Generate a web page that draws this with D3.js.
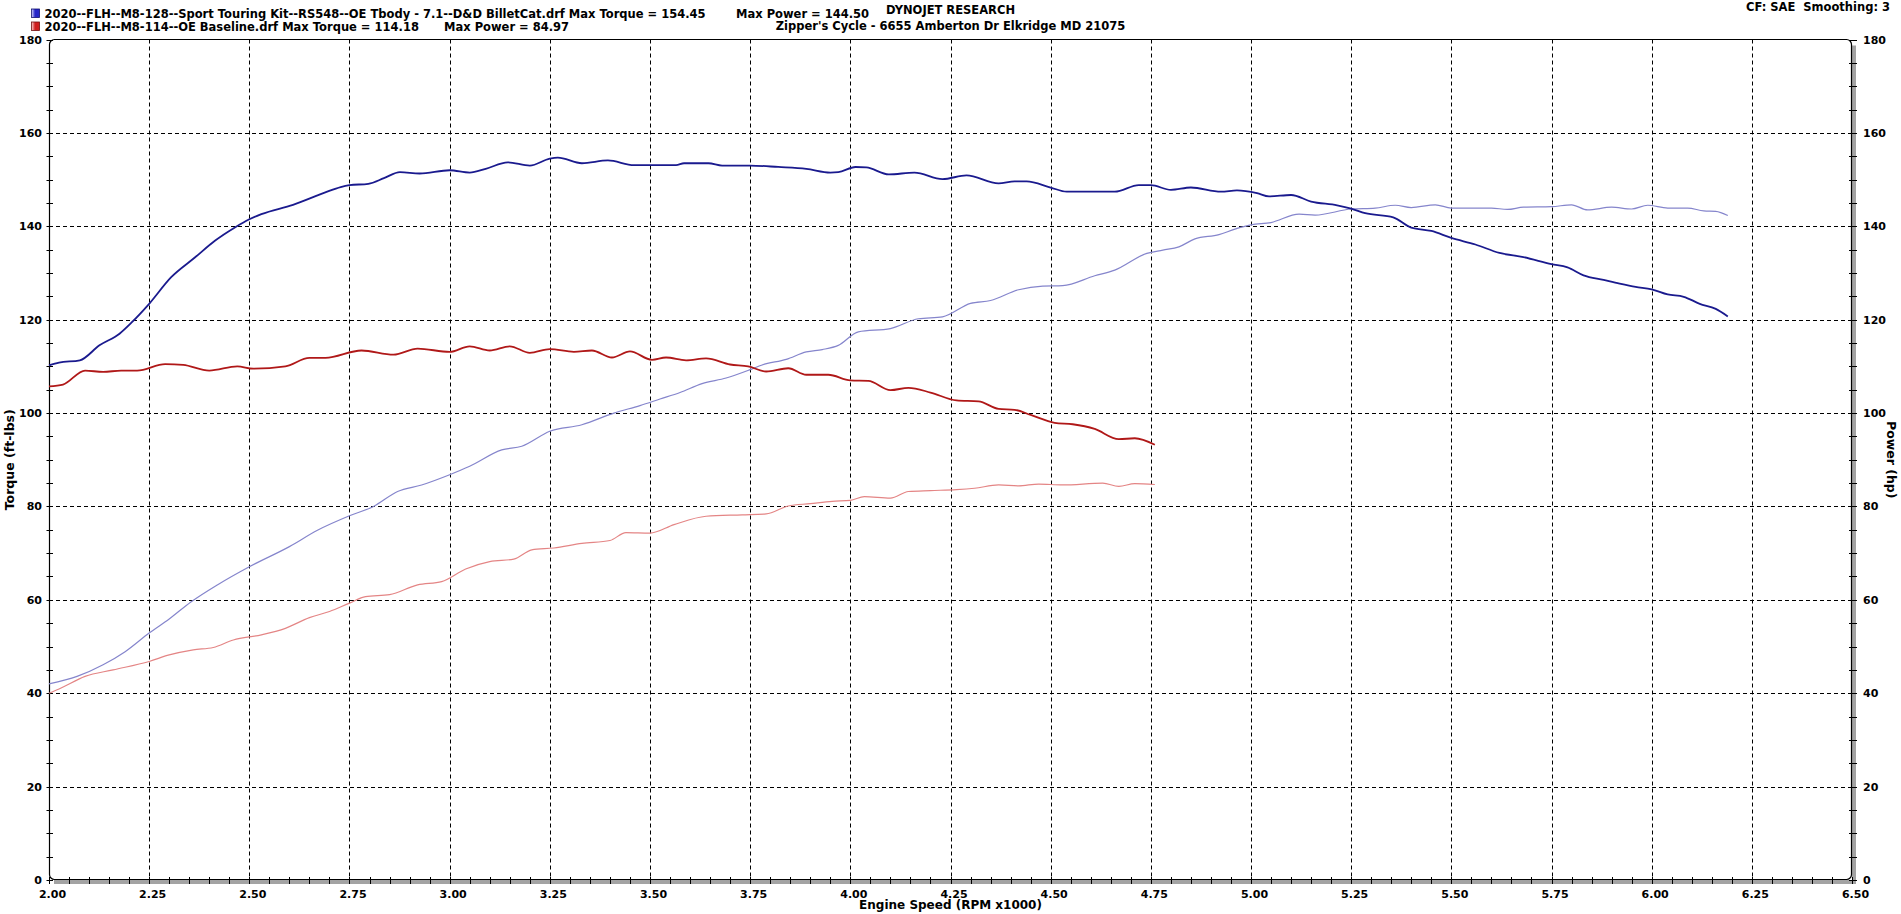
<!DOCTYPE html>
<html><head><meta charset="utf-8">
<script src="https://cdn.jsdelivr.net/npm/d3@7"></script>
<style>
body{margin:0;background:#fff}
svg{display:block}
text{font-family:"DejaVu Sans",Verdana,sans-serif;font-weight:bold;fill:#000}
</style>
</head><body>
<svg id="chart" width="1901" height="914"></svg>
<script>
// ---- tick labels ----
const xTickLabels = [2.00,2.25,2.50,2.75,3.00,3.25,3.50,3.75,4.00,4.25,4.50,4.75,5.00,5.25,5.50,5.75,6.00,6.25,6.50];
const yTickLabels = [0,20,40,60,80,100,120,140,160,180];

// ---- legend / header texts ----
const runNames = ["2020--FLH--M8-128--Sport Touring Kit--RS548--OE Tbody - 7.1--D&D BilletCat.drf",
                  "2020--FLH--M8-114--OE Baseline.drf"];
const maxTorque = ["154.45","114.18"];
const maxPower = ["144.50","84.97"];

// ---- series: [rpm x1000, value] ----
const torqueKit = [[2.00,110.2],[2.025,110.8],[2.077,111.3],[2.126,114.5],[2.176,117.0],[2.205,119.3],[2.25,123.4],[2.305,129.1],[2.364,133.3],[2.414,136.9],[2.463,139.7],[2.50,141.5],[2.53,142.6],[2.609,144.6],[2.688,147.2],[2.728,148.4],[2.75,148.8],[2.797,149.1],[2.836,150.3],[2.876,151.6],[2.925,151.3],[3.00,152.0],[3.05,151.5],[3.09,152.3],[3.145,153.7],[3.20,153.0],[3.25,154.5],[3.27,154.7],[3.33,153.5],[3.395,154.1],[3.46,153.1],[3.565,153.1],[3.585,153.5],[3.646,153.5],[3.68,153.0],[3.75,153.0],[3.82,152.7],[3.89,152.3],[3.95,151.5],[3.97,151.6],[4.013,152.7],[4.04,152.6],[4.096,151.1],[4.16,151.5],[4.23,150.1],[4.29,150.9],[4.37,149.2],[4.41,149.6],[4.44,149.6],[4.50,148.3],[4.54,147.4],[4.66,147.4],[4.72,148.8],[4.75,148.8],[4.80,147.8],[4.85,148.3],[4.925,147.4],[4.965,147.7],[5.015,147.1],[5.045,146.4],[5.10,146.7],[5.15,145.3],[5.215,144.5],[5.25,143.8],[5.285,142.8],[5.355,141.9],[5.40,139.7],[5.45,139.0],[5.50,137.5],[5.56,136.1],[5.62,134.3],[5.68,133.4],[5.75,131.9],[5.79,131.2],[5.83,129.5],[5.88,128.5],[5.92,127.7],[5.96,127.0],[6.00,126.5],[6.04,125.4],[6.08,124.9],[6.12,123.4],[6.16,122.3],[6.19,120.7]];

const powerKit = [[2.00,42.0],[2.07,43.6],[2.135,46.1],[2.19,48.9],[2.25,52.9],[2.30,55.9],[2.355,59.6],[2.42,63.2],[2.50,67.1],[2.60,71.4],[2.67,74.9],[2.75,78.0],[2.81,80.0],[2.87,83.2],[2.93,84.6],[3.00,86.8],[3.05,88.6],[3.13,92.1],[3.18,92.9],[3.25,96.1],[3.33,97.5],[3.41,100.0],[3.475,101.6],[3.525,103.0],[3.575,104.4],[3.63,106.3],[3.69,107.5],[3.75,109.3],[3.78,110.3],[3.84,111.5],[3.89,113.1],[3.93,113.6],[3.97,114.5],[4.02,117.4],[4.10,118.1],[4.17,120.2],[4.23,120.6],[4.30,123.5],[4.35,124.1],[4.42,126.4],[4.48,127.2],[4.53,127.3],[4.61,129.4],[4.66,130.6],[4.74,134.2],[4.78,134.9],[4.82,135.6],[4.86,137.3],[4.92,138.2],[4.96,139.4],[5.00,140.3],[5.05,140.8],[5.12,142.6],[5.16,142.4],[5.25,143.7],[5.31,143.9],[5.36,144.5],[5.40,144.0],[5.46,144.6],[5.50,143.9],[5.60,143.9],[5.64,143.6],[5.68,144.1],[5.75,144.2],[5.80,144.6],[5.84,143.5],[5.90,144.1],[5.95,143.7],[5.99,144.5],[6.04,143.9],[6.09,143.9],[6.13,143.3],[6.16,143.2],[6.19,142.3]];

const torqueBase = [[2.00,105.7],[2.035,106.1],[2.09,109.1],[2.135,108.8],[2.18,109.1],[2.22,109.1],[2.29,110.5],[2.335,110.3],[2.40,109.1],[2.47,110.0],[2.51,109.5],[2.59,110.0],[2.65,111.8],[2.69,111.8],[2.78,113.4],[2.86,112.5],[2.92,113.8],[3.00,113.1],[3.05,114.3],[3.10,113.4],[3.15,114.3],[3.20,112.9],[3.25,113.7],[3.31,113.1],[3.355,113.4],[3.405,111.9],[3.45,113.2],[3.505,111.4],[3.54,111.9],[3.59,111.3],[3.64,111.7],[3.70,110.4],[3.745,110.0],[3.79,108.9],[3.845,109.6],[3.89,108.2],[3.945,108.2],[4.00,107.0],[4.045,106.9],[4.10,104.9],[4.145,105.4],[4.20,104.4],[4.265,102.7],[4.32,102.5],[4.37,100.9],[4.41,100.7],[4.45,99.6],[4.51,97.9],[4.555,97.6],[4.61,96.6],[4.67,94.4],[4.71,94.6],[4.76,93.2]];

const powerBase = [[2.00,40.0],[2.025,40.9],[2.09,43.6],[2.16,45.0],[2.25,46.8],[2.30,48.2],[2.36,49.3],[2.41,49.8],[2.46,51.4],[2.53,52.5],[2.59,53.9],[2.65,56.2],[2.70,57.5],[2.75,59.3],[2.79,60.7],[2.85,61.1],[2.92,63.2],[2.98,63.9],[3.04,66.6],[3.10,68.2],[3.16,68.7],[3.205,70.7],[3.26,71.1],[3.33,72.1],[3.40,72.7],[3.44,74.4],[3.50,74.3],[3.56,76.1],[3.64,77.9],[3.73,78.2],[3.79,78.4],[3.845,80.1],[3.90,80.6],[3.955,81.1],[4.00,81.3],[4.035,82.1],[4.10,81.8],[4.145,83.2],[4.20,83.4],[4.265,83.6],[4.31,83.9],[4.37,84.6],[4.42,84.4],[4.47,84.8],[4.53,84.6],[4.63,85.0],[4.67,84.3],[4.71,84.9],[4.76,84.7]];

// ---- layout ----
const W = 1901, H = 914;
const M = {left:49, right:1852, top:39.5, bottom:880};
const svg = d3.select("#chart");

const x = d3.scaleLinear().domain([2.0, 6.5]).range([M.left, M.right]);
const y = d3.scaleLinear().domain([0, 180]).range([M.bottom, M.top]);

// grid
const grid = svg.append("g").attr("stroke","#000").attr("stroke-width",1).attr("stroke-dasharray","4,3");
grid.selectAll(".vx").data(xTickLabels.slice(1,-1)).join("line")
  .attr("x1",d=>Math.round(x(d))+0.5).attr("x2",d=>Math.round(x(d))+0.5)
  .attr("y1",M.top).attr("y2",M.bottom);
grid.selectAll(".hy").data(yTickLabels.slice(1,-1)).join("line")
  .attr("y1",d=>Math.round(y(d))+0.5).attr("y2",d=>Math.round(y(d))+0.5)
  .attr("x1",M.left).attr("x2",M.right);

// shadow (right + bottom)
svg.append("path")
  .attr("d",`M${M.left+5},${M.bottom+2} L${M.right+2},${M.bottom+2} L${M.right+2},${M.top+6}`)
  .attr("fill","none").attr("stroke","#a3a3a3").attr("stroke-width",4);

// frame
svg.append("rect").attr("x",M.left+0.5).attr("y",M.top).attr("width",M.right-M.left-1).attr("height",M.bottom-M.top-0.5)
  .attr("rx",5).attr("fill","none").attr("stroke","#000").attr("stroke-width",1.2);

// minor ticks
const minorY = d3.range(0,181,5);
const minorX = d3.range(0,91,1).map(i=>2+i*0.05);
const tk = svg.append("g").attr("stroke","#000").attr("stroke-width",1);
tk.selectAll(".ly").data(minorY).join("line")
  .attr("x1",M.left-2.5).attr("x2",M.left+4).attr("y1",d=>Math.round(y(d))+0.5).attr("y2",d=>Math.round(y(d))+0.5);
tk.selectAll(".ry").data(minorY).join("line")
  .attr("x1",M.right-3).attr("x2",M.right+5).attr("y1",d=>Math.round(y(d))+0.5).attr("y2",d=>Math.round(y(d))+0.5);
tk.selectAll(".bx").data(minorX).join("line")
  .attr("y1",M.bottom-3).attr("y2",M.bottom+4).attr("x1",d=>Math.round(x(d))+0.5).attr("x2",d=>Math.round(x(d))+0.5);

// axes (labels)
const fmtX = d3.format(".2f");
const axL = svg.append("g").attr("transform",`translate(${M.left},0)`)
  .call(d3.axisLeft(y).tickValues(yTickLabels).tickSize(0).tickPadding(7));
const axR = svg.append("g").attr("transform",`translate(${M.right},0)`)
  .call(d3.axisRight(y).tickValues(yTickLabels).tickSize(0).tickPadding(11));
const axB = svg.append("g").attr("transform",`translate(0,${M.bottom})`)
  .call(d3.axisBottom(x).tickValues(xTickLabels).tickFormat(fmtX).tickSize(0).tickPadding(10));
[axL,axR,axB].forEach(a=>{
  a.select(".domain").remove();
  a.attr("font-family",null).attr("font-size",null);
  a.selectAll("text").style("font-size","11px").style("font-weight","bold").attr("fill","#000");
});
axB.selectAll("text").attr("dx",3);

// lines
const line = d3.line().x(d=>x(d[0])).y(d=>y(d[1])).curve(d3.curveMonotoneX);
const series = [
  {data:powerKit, color:"#8585cc", w:1.2},
  {data:powerBase, color:"#e48585", w:1.2},
  {data:torqueBase, color:"#b01818", w:1.8},
  {data:torqueKit, color:"#1a1a8e", w:1.8}
];
svg.append("g").selectAll("path").data(series).join("path")
  .attr("d",s=>line(s.data)).attr("fill","none")
  .attr("stroke",s=>s.color).attr("stroke-width",s=>s.w).attr("stroke-linejoin","round");

// axis titles
svg.append("text").attr("transform",`translate(14,${(M.top+M.bottom)/2}) rotate(-90)`)
  .attr("text-anchor","middle").style("font-size","12.5px").text("Torque (ft-lbs)");
svg.append("text").attr("transform",`translate(1887,${(M.top+M.bottom)/2}) rotate(90)`)
  .attr("text-anchor","middle").style("font-size","12.5px").text("Power (hp)");
svg.append("text").attr("x",(M.left+M.right)/2).attr("y",909)
  .attr("text-anchor","middle").style("font-size","12px").text("Engine Speed (RPM x1000)");

// header
const defs = svg.append("defs");
const grads = [["gb","#d8d8ff","#2424c8"],["gr","#ffd8d8","#d02020"]];
grads.forEach(g=>{
  const lg = defs.append("linearGradient").attr("id",g[0]).attr("x1",0).attr("x2",1).attr("y1",0).attr("y2",0);
  lg.append("stop").attr("offset","0%").attr("stop-color",g[1]);
  lg.append("stop").attr("offset","45%").attr("stop-color",g[2]);
  lg.append("stop").attr("offset","100%").attr("stop-color",g[2]);
});
const legY = [17.5, 30.5];
const iconStroke = ["#101070","#701010"];
legY.forEach((ly,i)=>{
  svg.append("rect").attr("x",31.5).attr("y",ly-8.5).attr("width",8).attr("height",8.5)
    .attr("fill",`url(#${grads[i][0]})`).attr("stroke",iconStroke[i]).attr("stroke-width",0.8);
  svg.append("text").attr("x",44.5).attr("y",ly).style("font-size","11.5px")
    .text(`${runNames[i]} Max Torque = ${maxTorque[i]}`);
});
svg.append("text").attr("x",736).attr("y",legY[0]).style("font-size","11.5px").text(`Max Power = ${maxPower[0]}`);
svg.append("text").attr("x",444).attr("y",legY[1]).style("font-size","11.5px").text(`Max Power = ${maxPower[1]}`);
svg.append("text").attr("x",(M.left+M.right)/2).attr("y",14).attr("text-anchor","middle").style("font-size","11.5px").text("DYNOJET RESEARCH");
svg.append("text").attr("x",(M.left+M.right)/2).attr("y",30).attr("text-anchor","middle").style("font-size","11.5px").text("Zipper's Cycle - 6655 Amberton Dr Elkridge MD 21075");
svg.append("text").attr("x",1890).attr("y",11).attr("text-anchor","end").style("font-size","11.5px").text("CF: SAE  Smoothing: 3").attr("xml:space","preserve");
</script>
</body></html>
